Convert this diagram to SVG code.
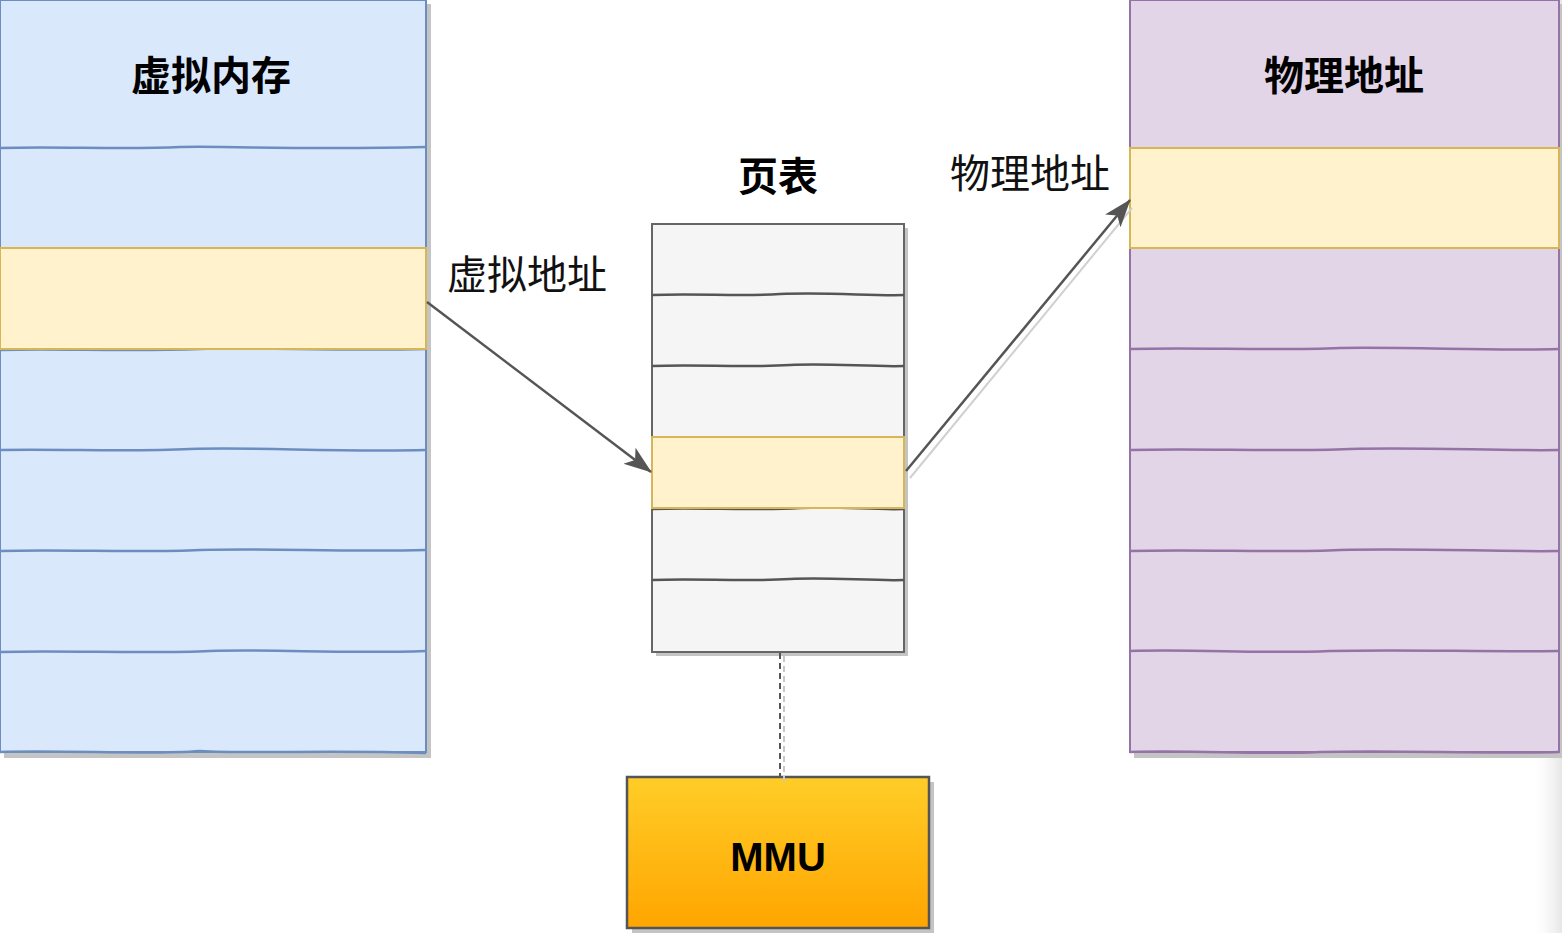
<svg xmlns="http://www.w3.org/2000/svg" width="1562" height="933" viewBox="0 0 1562 933">
<defs>
<linearGradient id="mmuGrad" x1="0" y1="0" x2="0" y2="1">
<stop offset="0" stop-color="#ffcd28"/>
<stop offset="1" stop-color="#ffa500"/>
</linearGradient>
<linearGradient id="edgeFade" x1="0" y1="0" x2="1" y2="0">
<stop offset="0" stop-color="#ffffff" stop-opacity="0"/>
<stop offset="1" stop-color="#e6e6e6" stop-opacity="1"/>
</linearGradient>
<marker id="arrow" viewBox="0 0 28 24" refX="27" refY="12" markerWidth="28" markerHeight="24" markerUnits="userSpaceOnUse" orient="auto">
<path d="M0,2 L28,12 L0,22 L7,12 Z" fill="#555555"/>
</marker>
</defs>
<style>
.title{font-family:"Noto Sans CJK SC","Noto Sans",sans-serif;font-weight:bold;font-size:40px;fill:#000;text-anchor:middle}
.label{font-family:"Noto Sans CJK SC","Noto Sans",sans-serif;font-size:40px;fill:#111;text-anchor:middle}
.mmu{font-family:"Liberation Sans","DejaVu Sans",sans-serif;font-weight:bold;font-size:40px;fill:#000;text-anchor:middle}
.shadow{fill:#c4c4c4}
.blue{fill:#dae8fc;stroke:#6c8ebf;stroke-width:2}
.blueLine{fill:none;stroke:#6c8ebf;stroke-width:2.5}
.yellow{fill:#fff2cc;stroke:#d6b656;stroke-width:2}
.purple{fill:#e1d5e7;stroke:#9673a6;stroke-width:2}
.purpleLine{fill:none;stroke:#9673a6;stroke-width:2.5}
.grey{fill:#f5f5f5;stroke:#666666;stroke-width:2}
.greyLine{fill:none;stroke:#555555;stroke-width:2.5}
.conn{fill:none;stroke:#555555;stroke-width:2.5}
</style>
<rect x="1530" y="0" width="32" height="933" fill="url(#edgeFade)"/>
<g id="virtual-memory">
<rect class="shadow" x="4" y="4" width="427" height="754"/>
<rect class="blue" x="0" y="0" width="426" height="752"/>
<path class="blueLine" d="M0,148 C60,146 120,150 180,147 C240,146 300,150 426,147"/>
<path class="blueLine" d="M0,350 C60,348 120,352 200,349 C260,347 330,351 426,349"/>
<path class="blueLine" d="M0,450 C70,449 130,452 190,449 C260,447 330,452 426,450"/>
<path class="blueLine" d="M0,551 C60,549 140,553 200,550 C270,548 340,552 426,550"/>
<path class="blueLine" d="M0,652 C60,650 150,654 210,651 C280,649 340,654 426,651"/>
<path class="blueLine" d="M0,752 C70,750 150,755 200,751 C250,754 320,750 426,753"/>
<rect class="yellow" x="0" y="248" width="426" height="101"/>
<text class="title" x="211" y="90">虚拟内存</text>
</g>
<g id="physical-memory">
<rect class="shadow" x="1134" y="4" width="428" height="754"/>
<rect class="purple" x="1130" y="0" width="429" height="752"/>
<path class="purpleLine" d="M1130,349 C1200,347 1270,351 1340,348 C1420,347 1490,351 1559,349"/>
<path class="purpleLine" d="M1130,450 C1200,448 1280,452 1350,449 C1420,447 1500,451 1559,450"/>
<path class="purpleLine" d="M1130,551 C1200,549 1280,553 1340,550 C1420,548 1500,552 1559,551"/>
<path class="purpleLine" d="M1130,651 C1200,649 1260,654 1330,651 C1400,649 1480,652 1559,651"/>
<path class="purpleLine" d="M1130,752 C1200,750 1260,755 1320,752 C1400,750 1480,754 1559,752"/>
<rect class="yellow" x="1130" y="148" width="429" height="100"/>
<text class="title" x="1344" y="90">物理地址</text>
</g>
<g id="page-table">
<text class="title" x="778" y="191">页表</text>
<rect class="shadow" x="656" y="228" width="252" height="428"/>
<rect class="grey" x="652" y="224" width="252" height="428"/>
<path class="greyLine" d="M652,295 C700,293 740,297 780,294 C830,292 870,296 904,295"/>
<path class="greyLine" d="M652,366 C700,364 740,368 790,365 C830,363 870,367 904,366"/>
<path class="greyLine" d="M652,580 C700,578 740,582 790,579 C830,577 870,581 904,580"/>
<path class="greyLine" d="M652,509 C700,507 750,511 800,508 C840,506 870,510 904,509"/>
<rect class="yellow" x="652" y="437" width="252" height="71"/>
</g>
<g id="mmu">
<rect class="shadow" x="632" y="782" width="302" height="151"/>
<rect x="627" y="777" width="302" height="151" fill="url(#mmuGrad)" stroke="#555555" stroke-width="2.5"/>
<text class="mmu" x="778" y="871">MMU</text>
</g>
<g id="connectors">
<path class="conn" d="M427,302 L651,472" marker-end="url(#arrow)"/>
<path d="M910,478 L1132,208" fill="none" stroke="#d0d0d0" stroke-width="2"/>
<path class="conn" d="M906,471 L1130,200" marker-end="url(#arrow)"/>
<path d="M780,653 L780,777" fill="none" stroke="#555555" stroke-width="2" stroke-dasharray="6,4"/>
<path d="M784,656 L784,782" fill="none" stroke="#c8c8c8" stroke-width="2" stroke-dasharray="6,4"/>
<text class="label" x="527" y="289">虚拟地址</text>
<text class="label" x="1030" y="188">物理地址</text>
</g>
</svg>
